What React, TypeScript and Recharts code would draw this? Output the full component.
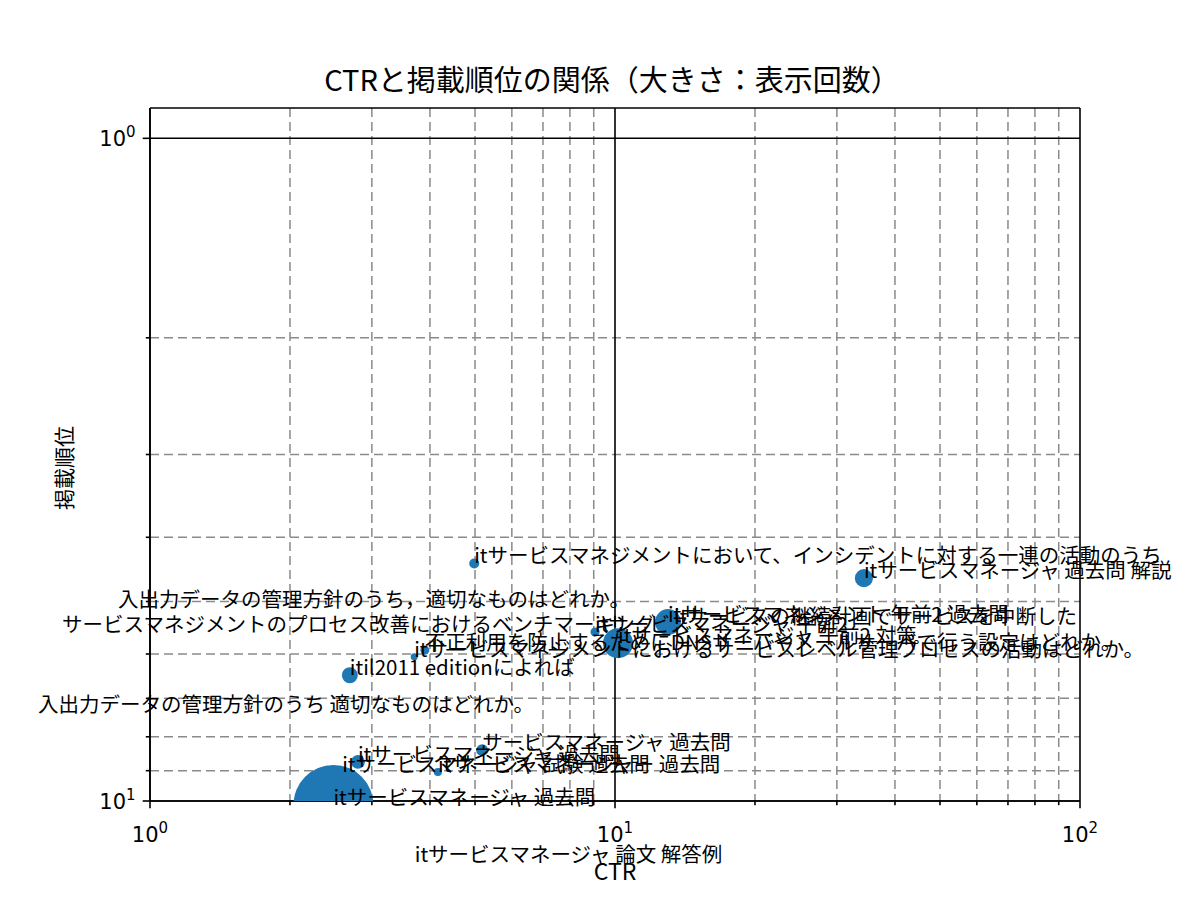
import React from 'react'
import {
  ScatterChart,
  Scatter,
  XAxis,
  YAxis,
  ZAxis,
  CartesianGrid,
  ReferenceLine,
} from 'recharts'

// search queries (labels)
const queries = [
  'itサービスマネジメントにおいて、インシデントに対する一連の活動のうち',
  'itサービスマネージャ 過去問 解説',
  '入出力データの管理方針のうち，適切なものはどれか。',
  'itサービスマネジメント 午前2 過去問',
  'itサービスの継続計画でサービスを中断した',
  'サービスマネジメントのプロセス改善におけるベンチマーキング',
  'itサービスマネージャ 午前2',
  'itサービスマネージャ 午前2 対策',
  '不正利用を防止するためにDNSサーバやメールサーバで行う設定はどれか。',
  'itサービスマネジメントにおけるサービスレベル管理プロセスの活動はどれか。',
  'itil2011 editionによれば',
  '入出力データの管理方針のうち 適切なものはどれか。',
  'サービスマネージャ 過去問',
  'itサービスマネージャ 過去問',
  'itサービスマネージャ 試験 過去問',
  'itサービスマネージャー 過去問',
  'itサービスマネージャ 過去問',
  'itサービスマネージャ 論文 解答例',
]
// CTR (%)
const ctr = [4.98, 34.3, 0.853, 13.0, 13.4, 0.647, 9.06, 10.15, 3.9, 3.7, 2.69, 0.574, 5.18, 2.8, 2.59, 4.16, 2.48, 3.71]
// average position
const position = [4.38, 4.61, 5.1, 5.37, 5.41, 5.56, 5.56, 5.78, 5.92, 6.06, 6.46, 7.34, 8.38, 8.73, 9.04, 9.04, 10.14, 12.36]
// impressions
const impressions = [18, 59, 20, 122, 12, 15, 15, 163, 15, 9, 46, 12, 26, 35, 18, 12, 1158, 14]

const xMajor = [1, 10, 100]
const xMinor = [2, 3, 4, 5, 6, 7, 8, 9, 20, 30, 40, 50, 60, 70, 80, 90]
const yMajor = [1, 10]
const yMinor = [2, 3, 4, 5, 6, 7, 8, 9]
const yTop = 0.9

const data = queries.map((q, i) => ({
  q,
  ctr: ctr[i],
  pos: position[i],
  imp: impressions[i],
}))

const TICK_SIZE = 7
const TICK_MARGIN = 4
const LABEL_FONT = 'DejaVu Sans, sans-serif'
const JP_FONT = '"Noto Sans CJK JP", sans-serif'

const exponent = (v: number) => String(Math.round(Math.log10(v)))

const XTick = (props: any) => {
  const { x, y, payload } = props
  const v = payload.value
  const major = xMajor.includes(v)
  const y0 = y - TICK_SIZE - TICK_MARGIN
  return (
    <g>
      <line x1={x} x2={x} y1={y0} y2={y0 + (major ? 7.3 : 4.2)} stroke="#000" strokeWidth={1.6} />
      {major && (
        <text x={x} y={y0 + 41} textAnchor="middle" fontFamily={LABEL_FONT} fontSize={21} fill="#000">
          10<tspan dy={-9} fontSize={15}>{exponent(v)}</tspan>
        </text>
      )}
    </g>
  )
}

const YTick = (props: any) => {
  const { x, y, payload } = props
  const v = payload.value
  const major = yMajor.includes(v)
  const x0 = x + TICK_SIZE + TICK_MARGIN
  return (
    <g>
      <line x1={x0} x2={x0 - (major ? 7.3 : 4.2)} y1={y} y2={y} stroke="#000" strokeWidth={1.6} />
      {major && (
        <text x={x0 - 24} y={y + 8} textAnchor="end" fontFamily={LABEL_FONT} fontSize={21} fill="#000">
          10
        </text>
      )}
      {major && (
        <text x={x0 - 24} y={y - 1} textAnchor="start" fontFamily={LABEL_FONT} fontSize={15} fill="#000">
          {exponent(v)}
        </text>
      )}
    </g>
  )
}

const QueryLabel = (props: any) => {
  const { cx, cy, payload } = props
  return (
    <text x={cx} y={cy} fontFamily={JP_FONT} fontSize={20.5} fill="#000">
      {payload.q}
    </text>
  )
}

export default function App() {
  return (
    <div style={{ position: 'absolute', left: 0, top: 0, width: 1200, height: 900, background: '#fff' }}>
      <style>{'.query-labels, .query-labels * { clip-path: none !important; }'}</style>
      <ScatterChart
        width={1200}
        height={900}
        margin={{ top: 108, right: 120, bottom: 39, left: 70 }}
      >
        <CartesianGrid
          horizontalValues={yMinor}
          verticalValues={xMinor}
          stroke="#8a8a8a"
          strokeDasharray="9 5"
          strokeWidth={1.5}
        />
        <CartesianGrid horizontalValues={yMajor} verticalValues={xMajor} stroke="#000" strokeWidth={1.6} />
        <XAxis
          dataKey="ctr"
          type="number"
          scale="log"
          domain={[1, 100]}
          allowDataOverflow
          ticks={[...xMajor, ...xMinor].sort((a, b) => a - b)}
          interval={0}
          height={60}
          tickSize={TICK_SIZE}
          tickMargin={TICK_MARGIN}
          tickLine={false}
          tick={<XTick />}
          axisLine={{ stroke: '#000', strokeWidth: 1.6 }}
        />
        <YAxis
          dataKey="pos"
          type="number"
          scale="log"
          domain={[yTop, 10]}
          reversed
          allowDataOverflow
          ticks={[...yMajor, ...yMinor].sort((a, b) => a - b)}
          interval={0}
          width={80}
          tickSize={TICK_SIZE}
          tickMargin={TICK_MARGIN}
          tickLine={false}
          tick={<YTick />}
          axisLine={{ stroke: '#000', strokeWidth: 1.6 }}
        />
        <ZAxis dataKey="imp" type="number" domain={[0, 'dataMax']} range={[0, 5027]} />
        <ReferenceLine y={yTop} stroke="#000" strokeWidth={1.6} ifOverflow="visible" />
        <Scatter data={data} fill="#1f77b4" isAnimationActive={false} />
        <Scatter data={data} className="query-labels" shape={<QueryLabel />} isAnimationActive={false} />
      </ScatterChart>
      <svg
        width={1200}
        height={900}
        style={{ position: 'absolute', left: 0, top: 0, pointerEvents: 'none' }}
      >
        <text x={612} y={91} textAnchor="middle" fontFamily={JP_FONT} fontSize={29} fill="#000">
          CTRと掲載順位の関係（大きさ：表示回数）
        </text>
        <text x={615} y={880} textAnchor="middle" fontFamily={JP_FONT} fontSize={23} fill="#000">
          CTR
        </text>
        <text
          x={72}
          y={468}
          textAnchor="middle"
          fontFamily={JP_FONT}
          fontSize={21}
          fill="#000"
          transform="rotate(-90 72 468)"
        >
          掲載順位
        </text>
      </svg>
    </div>
  )
}
